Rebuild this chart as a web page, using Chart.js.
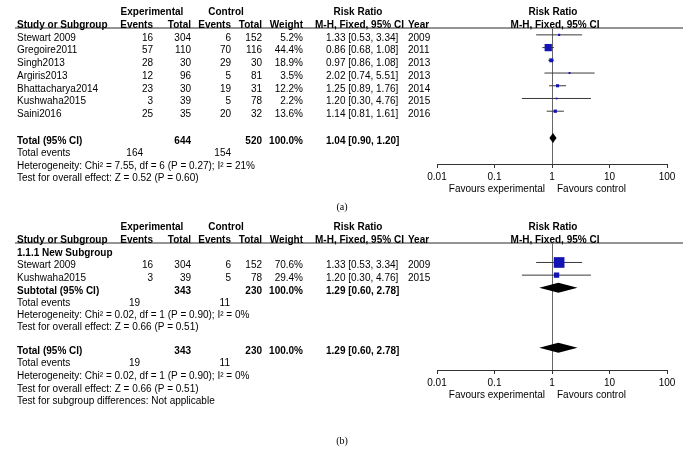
<!DOCTYPE html>
<html>
<head>
<meta charset="utf-8">
<script src="https://cdn.jsdelivr.net/npm/chart.js@4.4.1/dist/chart.umd.min.js"></script>
<style>
  body{margin:0;background:#fff;}
  .panel{position:absolute;left:0;}
</style>
</head>
<body>
<div class="panel" style="top:0"><canvas id="forestA" width="683" height="215"></canvas></div>
<div class="panel" style="top:215px"><canvas id="forestB" width="683" height="240"></canvas></div>
<script>
// (a) all studies
const studiesA = ["Stewart 2009","Gregoire2011","Singh2013","Argiris2013","Bhattacharya2014","Kushwaha2015","Saini2016"];
const expEventsA = [16,57,28,12,23,3,25];
const expTotalA = [304,110,30,96,30,39,35];
const ctrlEventsA = [6,70,29,5,19,5,20];
const ctrlTotalA = [152,116,30,81,31,78,32];
const weightA = [5.2,44.4,18.9,3.5,12.2,2.2,13.6];
const rrA = [1.33,0.86,0.97,2.02,1.25,1.20,1.14];
const lowA = [0.53,0.68,0.86,0.74,0.89,0.30,0.81];
const highA = [3.34,1.08,1.08,5.51,1.76,4.76,1.61];
const yearA = [2009,2011,2013,2013,2014,2015,2016];
const pooledA = [1.04,0.90,1.20];      // estimate, low, high
const totalsA = [644,520];
const totalEventsA = [164,154];
const hetA = "Heterogeneity: Chi\u00b2 = 7.55, df = 6 (P = 0.27); I\u00b2 = 21%";
const testA = "Test for overall effect: Z = 0.52 (P = 0.60)";

// (b) subgroup
const studiesB = ["Stewart 2009","Kushwaha2015"];
const expEventsB = [16,3];
const expTotalB = [304,39];
const ctrlEventsB = [6,5];
const ctrlTotalB = [152,78];
const weightB = [70.6,29.4];
const rrB = [1.33,1.20];
const lowB = [0.53,0.30];
const highB = [3.34,4.76];
const yearB = [2009,2015];
const pooledB = [1.29,0.60,2.78];
const totalsB = [343,230];
const totalEventsB = [19,11];
const hetB = "Heterogeneity: Chi\u00b2 = 0.02, df = 1 (P = 0.90); I\u00b2 = 0%";
const testB = "Test for overall effect: Z = 0.66 (P = 0.51)";

const xTicks = [0.01,0.1,1,10,100];

const FONT = '"Liberation Sans", Arial, sans-serif';
Chart.defaults.font.family = FONT;
Chart.defaults.font.size = 10;
Chart.defaults.color = "#000";

// column x positions
const col = {study:17, expEv:153, expTot:191, ctrlEv:231, ctrlTot:262, weight:303, rr:326, year:408};

function rrText(est,lo,hi){
    return `${est.toFixed(2)} [${lo.toFixed(2)}, ${hi.toFixed(2)}]`;
}

function headerLines(){
    return [
        {row:-2, bold:true, items:[["Experimental",152,"center"],["Control",226,"center"],["Risk Ratio",358,"center"],["Risk Ratio",553,"center"]]},
        {row:-1, bold:true, items:[["Study or Subgroup",col.study,"left"],["Events",col.expEv,"right"],["Total",col.expTot,"right"],
            ["Events",col.ctrlEv,"right"],["Total",col.ctrlTot,"right"],["Weight",col.weight,"right"],
            ["M-H, Fixed, 95% CI",315,"left"],["Year",col.year,"left"],["M-H, Fixed, 95% CI",555,"center"]]}
    ];
}

function studyLine(row,name,ee,et,ce,ct,w,rr,lo,hi,yr){
    return {row, items:[[name,col.study,"left"],[ee,col.expEv,"right"],[et,col.expTot,"right"],[ce,col.ctrlEv,"right"],
        [ct,col.ctrlTot,"right"],[w.toFixed(1)+"%",col.weight,"right"],[rrText(rr,lo,hi),col.rr,"left"],[yr,col.year,"left"]]};
}

function pooledLine(row,label,totals,pooled){
    return {row, bold:true, items:[[label,col.study,"left"],[totals[0],col.expTot,"right"],[totals[1],col.ctrlTot,"right"],
        ["100.0%",col.weight,"right"],[rrText(pooled[0],pooled[1],pooled[2]),col.rr,"left"]]};
}

class ForestPlot{
    constructor(canvasId,panel){
        this.canvasId = canvasId;
        this.panel = panel;
        this.chart = null;
    }

    renderChart(){
        const p = this.panel;
        const ctx = document.getElementById(this.canvasId).getContext("2d");

        // whiskers: one broken line, gaps between studies
        const ci = [];
        p.rows.forEach((r,i)=>{
            ci.push({x:p.low[i],y:r},{x:p.high[i],y:r},{x:p.rr[i],y:null});
        });

        const forestText = {
            id:"forestText",
            afterDatasetsDraw(chart){
                const c = chart.ctx, xs = chart.scales.x, ys = chart.scales.y;
                c.save();
                c.fillStyle = "#000";
                p.diamonds.forEach(d=>{
                    const y = ys.getPixelForValue(d.row);
                    c.beginPath();
                    c.moveTo(xs.getPixelForValue(d.v[1]),y);
                    c.lineTo(xs.getPixelForValue(d.v[0]),y-5);
                    c.lineTo(xs.getPixelForValue(d.v[2]),y);
                    c.lineTo(xs.getPixelForValue(d.v[0]),y+5);
                    c.closePath();
                    c.fill();
                });
                c.restore();
            },
            afterDraw(chart){
                const c = chart.ctx, area = chart.chartArea, ys = chart.scales.y, xs = chart.scales.x;
                c.save();
                // header rule
                c.strokeStyle = "#707070";
                c.lineWidth = 1.3;
                c.beginPath();
                c.moveTo(15,area.top);
                c.lineTo(683,area.top);
                c.stroke();

                c.textBaseline = "middle";
                c.fillStyle = "#000";
                p.lines.forEach(line=>{
                    const y = ys.getPixelForValue(line.row)+3;
                    line.items.forEach(it=>{
                        c.font = line.bold ? `bold 10px ${FONT}` : `10px ${FONT}`;
                        c.textAlign = it[2];
                        c.fillText(String(it[0]),it[1],y);
                    });
                });

                c.font = `10px ${FONT}`;
                const x1 = xs.getPixelForValue(1);
                const fy = area.bottom+25;
                c.textAlign = "right";
                c.fillText("Favours experimental",x1-7,fy);
                c.textAlign = "left";
                c.fillText("Favours control",x1+5,fy);

                c.font = '10px "Liberation Serif", "Times New Roman", serif';
                c.textAlign = "center";
                c.fillText(p.caption,342,p.captionY);
                c.restore();
            }
        };

        this.chart = new Chart(ctx,{
            type:"scatter",
            data:{
                datasets:[{
                    data:p.rows.map((r,i)=>({x:p.rr[i],y:r})),
                    pointStyle:"rect",
                    pointRadius:p.weight.map(w=>(1.5+0.13*w)/Math.SQRT2),
                    pointBorderWidth:0,
                    backgroundColor:"#1414b4",
                    order:0
                },{
                    data:ci,
                    showLine:true,
                    spanGaps:false,
                    borderColor:"#3a3a3a",
                    borderWidth:1,
                    pointRadius:0,
                    order:1
                }]
            },
            options:{
                responsive:false,
                animation:false,
                layout:{padding:{left:437,right:16,top:28,bottom:p.padBottom}},
                plugins:{legend:{display:false},tooltip:{enabled:false}},
                scales:{
                    x:{
                        type:"logarithmic",
                        min:0.01,
                        max:100,
                        afterBuildTicks:(axis)=>{ axis.ticks = xTicks.map(v=>({value:v})); },
                        ticks:{callback:(v)=>String(v),maxRotation:0,autoSkip:false,padding:3,color:"#000",font:{size:10}},
                        grid:{
                            color:(c)=>c.tick && c.tick.value === 1 ? "#666" : "rgba(0,0,0,0)",
                            tickColor:"#333",
                            tickLength:4,
                            lineWidth:1
                        },
                        border:{display:true,color:"#333",width:1}
                    },
                    y:{
                        type:"linear",
                        display:false,
                        reverse:true,
                        min:-0.54,
                        max:p.axisRow
                    }
                }
            },
            plugins:[forestText]
        });
    }

    init(){
        this.renderChart();
    }
}

// text layout of each panel
const linesA = headerLines();
studiesA.forEach((s,i)=>linesA.push(studyLine(i,s,expEventsA[i],expTotalA[i],ctrlEventsA[i],ctrlTotalA[i],weightA[i],rrA[i],lowA[i],highA[i],yearA[i])));
linesA.push(pooledLine(8.1,"Total (95% CI)",totalsA,pooledA));
linesA.push({row:9.1, items:[["Total events",col.study,"left"],[totalEventsA[0],143,"right"],[totalEventsA[1],231,"right"]]});
linesA.push({row:10.1, items:[[hetA,col.study,"left"]]});
linesA.push({row:11.05, items:[[testA,col.study,"left"]]});

const linesB = headerLines();
linesB.push({row:0, bold:true, items:[["1.1.1 New Subgroup",col.study,"left"]]});
studiesB.forEach((s,i)=>linesB.push(studyLine(i+1,s,expEventsB[i],expTotalB[i],ctrlEventsB[i],ctrlTotalB[i],weightB[i],rrB[i],lowB[i],highB[i],yearB[i])));
linesB.push(pooledLine(3,"Subtotal (95% CI)",totalsB,pooledB));
linesB.push({row:3.95, items:[["Total events",col.study,"left"],[totalEventsB[0],140,"right"],[totalEventsB[1],230,"right"]]});
linesB.push({row:4.9, items:[[hetB,col.study,"left"]]});
linesB.push({row:5.85, items:[[testB,col.study,"left"]]});
linesB.push(pooledLine(7.75,"Total (95% CI)",totalsB,pooledB));
linesB.push({row:8.75, items:[["Total events",col.study,"left"],[totalEventsB[0],140,"right"],[totalEventsB[1],230,"right"]]});
linesB.push({row:9.75, items:[[hetB,col.study,"left"]]});
linesB.push({row:10.75, items:[[testB,col.study,"left"]]});
linesB.push({row:11.75, items:[["Test for subgroup differences: Not applicable",col.study,"left"]]});

document.addEventListener("DOMContentLoaded",()=>{
    new ForestPlot("forestA",{
        rows:studiesA.map((s,i)=>i),
        rr:rrA, low:lowA, high:highA, weight:weightA,
        diamonds:[{row:8.1, v:pooledA}],
        lines:linesA,
        axisRow:10.15,
        caption:"(a)", captionY:207,
        padBottom:29
    }).init();

    new ForestPlot("forestB",{
        rows:studiesB.map((s,i)=>i+1),
        rr:rrB, low:lowB, high:highB, weight:weightB,
        diamonds:[{row:3, v:pooledB},{row:7.75, v:pooledB}],
        lines:linesB,
        axisRow:9.5,
        caption:"(b)", captionY:226,
        padBottom:63
    }).init();
});
</script>
</body>
</html>
